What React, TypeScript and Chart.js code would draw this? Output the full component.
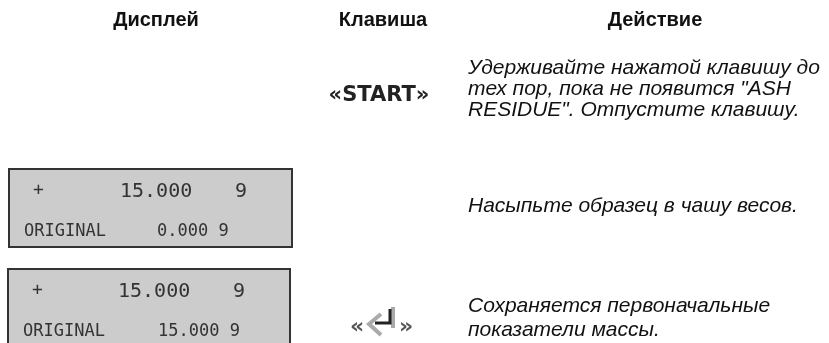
import React, { useEffect, useRef } from "react";
import { Chart, registerables } from "chart.js";

Chart.register(...registerables);

const headers = ["Дисплей", "Клавиша", "Действие"];
const startKey = "«START»";
const enterOpen = "«";
const enterClose = "»";
const actions = [
  ["Удерживайте нажатой клавишу до", 'тех пор, пока не появится "ASH', 'RESIDUE". Отпустите клавишу.'],
  ["Насыпьте образец в чашу весов."],
  ["Сохраняется первоначальные", "показатели массы."],
];
const panelTop = ["+", "15.000", "9"];
const panelOriginal = "ORIGINAL";
const originalValues = ["0.000 9", "15.000 9"];

const lcdFont = '"DejaVu Sans Mono"';

function drawPanel(
  ctx: CanvasRenderingContext2D,
  x: number, y: number, w: number, h: number,
  value: string, valueX: number, topX: number, nineX: number
) {
  ctx.fillStyle = "#cccccc";
  ctx.fillRect(x, y, w, h);
  ctx.fillStyle = "#333333";
  ctx.fillRect(x, y, w, 2);
  ctx.fillRect(x, y, 2, h);
  ctx.fillRect(x, y + h - 2, w, 2);
  ctx.fillRect(x + w - 2, y, 2, h);

  ctx.fillStyle = "#333333";
  ctx.textBaseline = "alphabetic";
  ctx.textAlign = "left";
  ctx.font = `18px ${lcdFont}`;
  ctx.fillText(panelTop[0], x + 25, y + 27);
  ctx.font = `20px ${lcdFont}`;
  ctx.fillText(panelTop[1], topX, y + 29);
  ctx.fillText(panelTop[2], nineX, y + 29);
  ctx.font = `17px ${lcdFont}`;
  ctx.fillText(panelOriginal, x + 16, y + 68);
  ctx.fillText(value, valueX, y + 68);
}

const tablePlugin = {
  id: "tablePlugin",
  afterDraw(chart: Chart) {
    const ctx = chart.ctx;
    ctx.save();

    ctx.fillStyle = "#111111";
    ctx.textBaseline = "alphabetic";
    ctx.textAlign = "center";
    ctx.font = 'bold 20px "Liberation Sans"';
    ctx.fillText(headers[0], 156, 26);
    ctx.fillText(headers[1], 383, 26);
    ctx.fillText(headers[2], 655, 26);

    drawPanel(ctx, 8, 168, 285, 80, originalValues[0], 157, 120, 235);
    drawPanel(ctx, 7, 268, 284, 80, originalValues[1], 158, 118, 233);

    ctx.fillStyle = "#222222";
    ctx.textAlign = "center";
    ctx.font = 'bold 21px "DejaVu Sans"';
    ctx.fillText(startKey, 379, 101);

    ctx.fillStyle = "#555555";
    ctx.font = 'bold 22px "DejaVu Sans"';
    ctx.fillText(enterOpen, 357, 333);
    ctx.fillText(enterClose, 406, 333);
    ctx.strokeStyle = "#aaaaaa";
    ctx.lineWidth = 4;
    ctx.beginPath();
    ctx.moveTo(393, 307);
    ctx.lineTo(393, 328);
    ctx.moveTo(381, 314);
    ctx.lineTo(369, 324);
    ctx.lineTo(381, 335);
    ctx.stroke();
    ctx.strokeStyle = "#222222";
    ctx.lineWidth = 3;
    ctx.beginPath();
    ctx.moveTo(390, 309);
    ctx.lineTo(390, 323);
    ctx.lineTo(375, 323);
    ctx.stroke();

    ctx.fillStyle = "#111111";
    ctx.textAlign = "left";
    ctx.font = 'italic 21px "Liberation Sans"';
    const baselines = [[74, 95, 116], [212], [312, 336]];
    actions.forEach((lines, i) =>
      lines.forEach((line, j) => ctx.fillText(line, 468, baselines[i][j]))
    );
    ctx.restore();
  },
};

export default function App() {
  const ref = useRef<HTMLCanvasElement>(null);
  useEffect(() => {
    document.body.style.margin = "0";
    document.body.style.background = "#ffffff";
    const chart = new Chart(ref.current!, {
      type: "bar",
      data: { labels: [], datasets: [] },
      options: {
        animation: false,
        responsive: false,
        plugins: { legend: { display: false }, tooltip: { enabled: false } },
        scales: { x: { display: false }, y: { display: false } },
      },
      plugins: [tablePlugin],
    });
    return () => chart.destroy();
  }, []);
  return <canvas ref={ref} width={829} height={343} style={{ display: "block" }} />;
}
